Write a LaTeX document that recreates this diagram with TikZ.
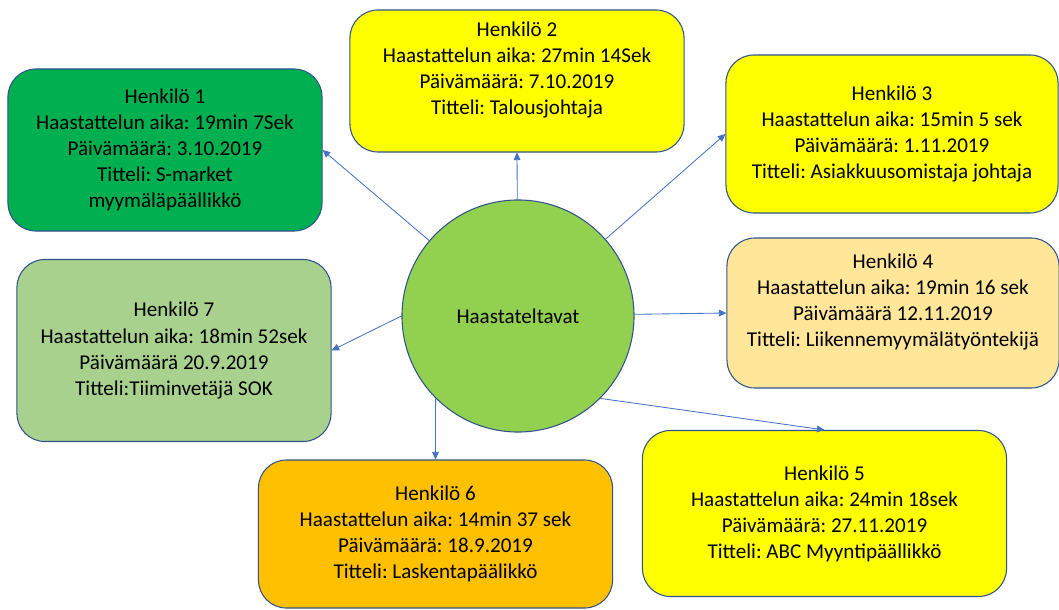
\documentclass[tikz,border=0pt]{standalone}
\usepackage{fontspec}
\setmainfont{Carlito}
\frenchspacing
\usetikzlibrary{arrows.meta}
\definecolor{hkdarkgreen}{HTML}{00B050}
\definecolor{hkgreen}{HTML}{92D050}
\definecolor{hklightgreen}{HTML}{A9D18E}
\definecolor{hkyellow}{HTML}{FFFF00}
\definecolor{hkorange}{HTML}{FFC000}
\definecolor{hklightorange}{HTML}{FFE699}
\definecolor{hkborder}{HTML}{2F528F}
\definecolor{hkarrow}{HTML}{4472C4}

\begin{document}
\begin{tikzpicture}[x=0.025cm,y=-0.025cm,
      box/.style={draw=hkborder,line width=0.75pt,rounded corners=0.7cm,align=center,
        font=\fontsize{15}{18.5}\selectfont},
      hub/.style={circle,draw=hkborder,line width=0.75pt,fill=hkgreen,minimum size=5.8cm,
        font=\fontsize{15}{18.5}\selectfont},
      arr/.style={-{Triangle[length=1.9mm,width=1.7mm]},line width=0.6pt,draw=hkarrow}]
    \useasboundingbox (0,0) rectangle (1059,610);
    \node[hub] (haast) at (518,316) {Haastateltavat};
    \node[box,fill=hkdarkgreen,minimum width=7.85cm,minimum height=4.05cm] (h1) at (165,150)
      {Henkilö 1\\Haastattelun aika: 19min 7Sek\\Päivämäärä: 3.10.2019\\Titteli: S-market\\myymäläpäällikkö};
    \node[box,fill=hkyellow,minimum width=8.35cm,minimum height=3.55cm] (h2) at (517,81)
      {Henkilö 2\\Haastattelun aika: 27min 14Sek\\Päivämäärä: 7.10.2019\\Titteli: Talousjohtaja\\~};
    \node[box,fill=hkyellow,minimum width=8.3cm,minimum height=3.95cm] (h3) at (892,134)
      {Henkilö 3\\Haastattelun aika: 15min 5 sek\\Päivämäärä: 1.11.2019\\Titteli: Asiakkuusomistaja johtaja};
    \node[box,fill=hklightorange,minimum width=8.3cm,minimum height=3.75cm] (h4) at (893,313)
      {Henkilö 4\\Haastattelun aika: 19min 16 sek\\Päivämäärä 12.11.2019\\Titteli: Liikennemyymälätyöntekijä\\~};
    \node[box,fill=hkyellow,minimum width=9.1cm,minimum height=4.15cm] (h5) at (824.5,513.5)
      {Henkilö 5\\Haastattelun aika: 24min 18sek\\Päivämäärä: 27.11.2019\\Titteli: ABC Myyntipäällikkö};
    \node[box,fill=hkorange,minimum width=8.85cm,minimum height=3.7cm] (h6) at (435.5,534)
      {Henkilö 6\\Haastattelun aika: 14min 37 sek\\Päivämäärä: 18.9.2019\\Titteli: Laskentapäälikkö};
    \node[box,fill=hklightgreen,minimum width=7.85cm,minimum height=4.55cm] (h7) at (174,350.5)
      {Henkilö 7\\Haastattelun aika: 18min 52sek\\Päivämäärä 20.9.2019\\Titteli:Tiiminvetäjä SOK};
    % haastateltavat -> henkilöt
    \draw[arr] (haast) -- (h1.east);
    \draw[arr] (haast) -- (h2.south);
    \draw[arr] (haast) -- (h3.west);
    \draw[arr] (haast) -- (h4.west);
    \draw[arr] (haast.-45) -- (h5.north);
    \draw[arr] (haast.-135) -- (h6.north);
    \draw[arr] (haast.west) -- (h7.east);
  \end{tikzpicture}
\end{document}
